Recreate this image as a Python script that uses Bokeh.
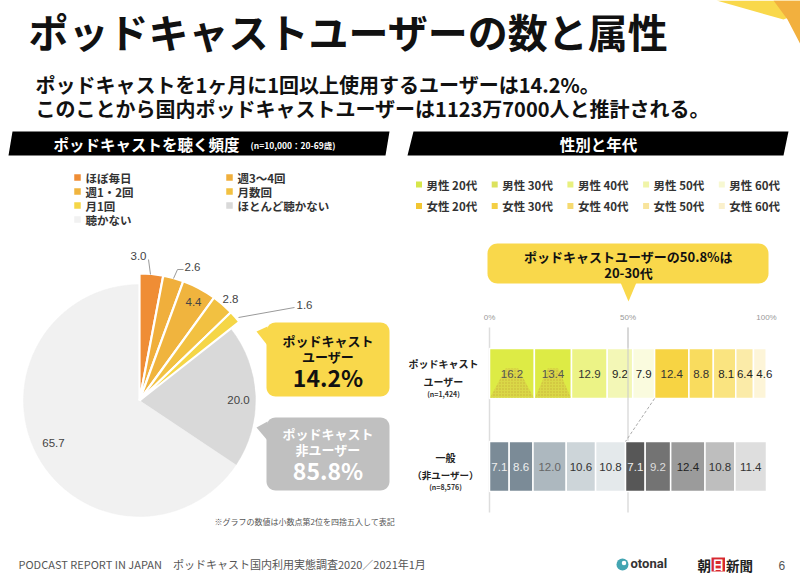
import numpy as np
from bokeh.plotting import figure
from bokeh.models import Range1d, Label, ColumnDataSource
from bokeh.core.properties import value
from bokeh.embed import file_html
from bokeh.resources import INLINE

# ---------------- data ----------------
title_text = "ポッドキャストユーザーの数と属性"
sub_line1 = "ポッドキャストを1ヶ月に1回以上使用するユーザーは14.2%。"
sub_line2 = "このことから国内ポッドキャストユーザーは1123万7000人と推計される。"

freq_labels = ["ほぼ毎日", "週3〜4回", "週1・2回", "月数回", "月1回", "ほとんど聴かない", "聴かない"]
freq_values = [3.0, 2.6, 4.4, 2.8, 1.6, 20.0, 65.7]
freq_is_user = [True, True, True, True, True, False, False]
user_share = "14.2%"
nonuser_share = "85.8%"

seg_labels = ["男性 20代", "男性 30代", "男性 40代", "男性 50代", "男性 60代",
              "女性 20代", "女性 30代", "女性 40代", "女性 50代", "女性 60代"]
users_values = [16.2, 13.4, 12.9, 9.2, 7.9, 12.4, 8.8, 8.1, 6.4, 4.6]
nonusers_values = [7.1, 8.6, 12.0, 10.6, 10.8, 7.1, 9.2, 12.4, 10.8, 11.4]
pct_ticks = [0, 50, 100]
pct_tick_labels = ["0%", "50%", "100%"]

# ---------------- styles ----------------
JP = "Noto Sans CJK JP"
NUM = "Liberation Sans"
YELLOW = "#F9D84B"
freq_colors = ["#EF8D35", "#F0AF3C", "#F0B43E", "#F2C141", "#F5D647", "#D9D9D9", "#F1F1F1"]
legend_seg_colors = ["#D6E64A", "#DCE25E", "#E8F07E", "#F0F4A8", "#F7F8D2",
                     "#F2C632", "#F4CF44", "#F6DA70", "#F8E49C", "#FAF0CC"]
users_colors = ["#DDEB45", "#DDEB45", "#ECF386", "#F3F7B6", "#FAFBDE",
                "#F7D443", "#F9DC5E", "#FAE480", "#FBEBA8", "#FDF5D8"]
users_text = ["#555555", "#555555", "#333333", "#222222", "#222222",
              "#333333", "#333333", "#222222", "#222222", "#222222"]
nonusers_colors = ["#7B8B97", "#7B8B97", "#ADB8BF", "#CDD5D9", "#E4E9EB",
                   "#575757", "#737373", "#9B9B9B", "#BEBEBE", "#DEDEDE"]
nonusers_text = ["#EEEEEE", "#EEEEEE", "#666666", "#333333", "#333333",
                 "#EEEEEE", "#DDDDDD", "#222222", "#333333", "#333333"]
users_label_nudge = [0, 0, 0, 0, 0, 0, 0, 0.6, 0.1, 1.6]   # in % units

# ---------------- figure ----------------
p = figure(width=800, height=580, x_range=Range1d(0, 800), y_range=Range1d(0, 580),
           output_backend="svg", toolbar_location=None,
           x_axis_location=None, y_axis_location=None, min_border=0,
           outline_line_color=None, background_fill_color="white",
           border_fill_color="white")
p.grid.visible = False


def Y(v):
    return 580 - v


def lab(x, y, text, size, color="#111111", bold=True, align="left",
        baseline="middle", font=JP):
    p.add_layout(Label(x=x, y=Y(y), text=text, text_font=font,
                       text_font_size=f"{size}px",
                       text_font_style="bold" if bold else "normal",
                       text_color=color, text_align=align,
                       text_baseline=baseline))


def poly(xs, ys, color, **kw):
    p.patch(list(xs), [Y(v) for v in ys], fill_color=color, line_color=None, **kw)


def rrect(x0, y0, x1, y1, r, n=10):
    xs, ys = [], []
    corners = [(x1 - r, y0 + r, -90, 0), (x1 - r, y1 - r, 0, 90),
               (x0 + r, y1 - r, 90, 180), (x0 + r, y0 + r, 180, 270)]
    for cx, cy, a0, a1 in corners:
        for a in np.linspace(np.radians(a0), np.radians(a1), n):
            xs.append(cx + r * np.cos(a))
            ys.append(cy + r * np.sin(a))
    return xs, ys


# ---------------- decorations ----------------
poly([716, 800, 800, 783], [0, 0, 12, 19], YELLOW)
poly([773, 800, 800, 787], [0, 0, 44, 19], "#F2B03E")

lab(28, 30, title_text, 40, color="#111111")
lab(35, 84, sub_line1, 20, color="#111111")
lab(35, 108, sub_line2, 20, color="#111111")

# section headers
poly([12, 389, 385, 8], [131, 131, 155, 155], "#000000")
lab(53, 143.5, "ポッドキャストを聴く頻度", 15.5, color="white")
lab(250, 144, "(n=10,000：20-69歳)", 8.5, color="white")
poly([413, 788, 783, 407], [131, 131, 155, 155], "#000000")
lab(598, 143.5, "性別と年代", 15.5, color="white", align="center")

# ---------------- left legend ----------------
for i, (name, col) in enumerate(zip(freq_labels, freq_colors)):
    row, c = i // 2, i % 2
    lx = [74, 226][c]
    ly = 177 + row * 14
    p.rect(x=lx + 3, y=Y(ly), width=6.5, height=6.5, fill_color=col, line_color=None)
    lab(lx + 11, ly, name, 11.5, color="#333333")

# ---------------- pie ----------------
cx, cy = 139, 400
vals = np.array(freq_values)
frac = vals / vals.sum()
cum = np.concatenate([[0.0], np.cumsum(frac)])
starts = np.pi / 2 - 2 * np.pi * cum[1:]
ends = np.pi / 2 - 2 * np.pi * cum[:-1]

non_idx = [i for i, u in enumerate(freq_is_user) if not u]
usr_idx = [i for i, u in enumerate(freq_is_user) if u]
src_non = ColumnDataSource(dict(s=starts[non_idx], e=ends[non_idx],
                                c=[freq_colors[i] for i in non_idx]))
p.wedge(x=cx, y=Y(cy), radius=116, start_angle="s", end_angle="e",
        fill_color="c", line_color="c", line_width=0.5, source=src_non)
src_usr = ColumnDataSource(dict(s=starts[usr_idx], e=ends[usr_idx],
                                c=[freq_colors[i] for i in usr_idx]))
p.wedge(x=cx, y=Y(cy), radius=127, start_angle="s", end_angle="e",
        fill_color="c", line_color="white", line_width=2.2, source=src_usr)

# pie value labels (offsets from centre)
pie_label_off = [(-1, -145), (53, -134), (54, -99), (91, -102), (165, -96), (99, -1), (-86, 42)]
for v, (dx, dy) in zip(freq_values, pie_label_off):
    lab(cx + dx, cy + dy, f"{v:.1f}", 11.5, color="#444444", bold=False,
        align="center", font=NUM)
leaders = [([148, 150], [259, 274]), ([183, 177, 173], [269, 269, 278]),
           ([294, 238], [307, 317])]
for xs, ys in leaders:
    p.line(xs, [Y(v) for v in ys], line_color="#9A9A9A", line_width=1)

# callouts
bx_, by_ = rrect(266, 322, 389, 396, 9)
poly(bx_, by_, YELLOW)
poly([267, 256, 267], [326, 331, 345], YELLOW)
lab(327.5, 340, "ポッドキャスト", 13, color="#111111", align="center")
lab(327.5, 356, "ユーザー", 13, color="#111111", align="center")
lab(327.5, 376, user_share, 23, color="#111111", align="center")

gx_, gy_ = rrect(266, 417, 389, 490, 9)
poly(gx_, gy_, "#C0C0C0")
poly([267, 256, 267], [421, 427, 440], "#C0C0C0")
lab(327.5, 433, "ポッドキャスト", 13, color="white", align="center")
lab(327.5, 449, "非ユーザー", 13, color="white", align="center")
lab(327.5, 469, nonuser_share, 23, color="white", align="center")

lab(214, 521, "※グラフの数値は小数点第2位を四捨五入して表記", 8, color="#555555", bold=False)

# ---------------- right legend ----------------
for i, (name, col) in enumerate(zip(seg_labels, legend_seg_colors)):
    row, c = i // 5, i % 5
    lx = 416 + c * 75.7
    ly = 184 + row * 21.5
    p.rect(x=lx + 2.5, y=Y(ly), width=6, height=6, fill_color=col, line_color=None)
    lab(lx + 10, ly, name, 11.5, color="#333333")

# top callout
tx_, ty_ = rrect(487, 243, 768, 283, 10)
poly(tx_, ty_, YELLOW)
poly([620, 636, 628], [282, 282, 301], YELLOW)
lab(628, 256, "ポッドキャストユーザーの50.8%は", 13, color="#111111", align="center")
lab(628, 272, "20-30代", 13, color="#111111", align="center")

# ---------------- stacked bars (sub-coordinates: x in %) ----------------
bars = p.subplot(x_source=Range1d(0, 100), y_source=Range1d(0, 1),
                 x_target=Range1d(489, 766), y_target=Range1d(0, 1))

bars.segment(x0=pct_ticks[:2], x1=pct_ticks[:2], y0=[Y(327)] * 2, y1=[Y(512)] * 2,
             line_color="#DDDDDD", line_width=1.5)
bars.text(x=pct_ticks, y=[Y(317)] * 3, text=pct_tick_labels,
          text_font=value(NUM), text_font_size="8px", text_color="#999999",
          text_align="center", text_baseline="middle")

row_y = {"users": 373, "nonusers": 466}
bar_h = 50


def draw_row(values, colors, tcolors, yref, nudge):
    v = np.array(values)
    right = np.cumsum(v)
    left = right - v
    src = ColumnDataSource(dict(l=left, r=right, c=colors,
                                m=(left + right) / 2 + np.array(nudge),
                                t=[f"{x:.1f}" for x in v], tc=tcolors))
    bars.hbar(y=Y(yref), height=bar_h, left="l", right="r", fill_color="c",
              line_color="white", line_width=1.5, source=src)
    return src, left, right


src_u, lu, ru = draw_row(users_values, users_colors, users_text, row_y["users"],
                         users_label_nudge)
src_n, ln, rn = draw_row(nonusers_values, nonusers_colors, nonusers_text,
                         row_y["nonusers"], [0] * 10)

# dotted "mountain" texture on the 20s/30s male user segments
for k in range(2):
    l, r = lu[k], ru[k]
    w = r - l
    xs = [l + 0.3, l + w * 0.36, l + w * 0.64, r - 0.3]
    ys = [Y(row_y["users"] + 24), Y(row_y["users"] - 5), Y(row_y["users"] - 5),
          Y(row_y["users"] + 24)]
    bars.patch(xs, ys, fill_color="#DAD847", line_color=None,
               hatch_pattern="dot", hatch_color="#C8B238", hatch_scale=3)

bars.text(x="m", y=Y(row_y["users"]), text="t", text_color="tc", source=src_u,
          text_font=value(NUM), text_font_size="11.5px", text_align="center",
          text_baseline="middle")
bars.text(x="m", y=Y(row_y["nonusers"]), text="t", text_color="tc", source=src_n,
          text_font=value(NUM), text_font_size="11.5px", text_align="center",
          text_baseline="middle")

# 50% line showing through the users bar
bars.segment(x0=[50], x1=[50], y0=[Y(327)], y1=[Y(399)], line_color="#CCCCCC",
             line_width=1.5, line_alpha=0.7)

# connector between male/female split points
male_u = sum(users_values[:5])
male_n = sum(nonusers_values[:5])
bars.segment(x0=[male_u], y0=[Y(row_y["users"] + bar_h / 2)],
             x1=[male_n], y1=[Y(row_y["nonusers"] - bar_h / 2)],
             line_color="#AAAAAA", line_width=1, line_dash="3 2")

# row labels
lab(443, 363, "ポッドキャスト", 10, color="#222222", align="center")
lab(443, 381, "ユーザー", 10, color="#222222", align="center")
lab(443, 393, "(n=1,424)", 7, color="#333333", align="center")
lab(445, 457, "一般", 10, color="#222222", align="center")
lab(445, 474, "（非ユーザー）", 9.5, color="#222222", align="center")
lab(445, 486, "(n=8,576)", 7, color="#333333", align="center")

# ---------------- footer ----------------
lab(18, 563, "PODCAST REPORT IN JAPAN　ポッドキャスト国内利用実態調査2020／2021年1月", 11,
    color="#555555", bold=False)
p.scatter(x=[622], y=[Y(564)], size=12, marker="circle", fill_color="#43A5B2", line_color=None)
p.scatter(x=[623.5], y=[Y(562.5)], size=4.5, marker="circle", fill_color="white", line_color=None)
lab(630, 563, "otonal", 13, color="#333333", font="Roboto")
lab(697, 564, "朝", 13.5, color="#222222")
p.quad(left=[711], right=[724.5], bottom=[Y(571)], top=[Y(557)], fill_color="#D7282F", line_color=None)
lab(717.7, 564, "日", 12, color="white", align="center")
lab(725.5, 564, "新聞", 13.5, color="#222222")
lab(778, 565, "6", 12, color="#555555", bold=False, font=NUM)

open("out.html", "w").write(file_html(p, INLINE))
